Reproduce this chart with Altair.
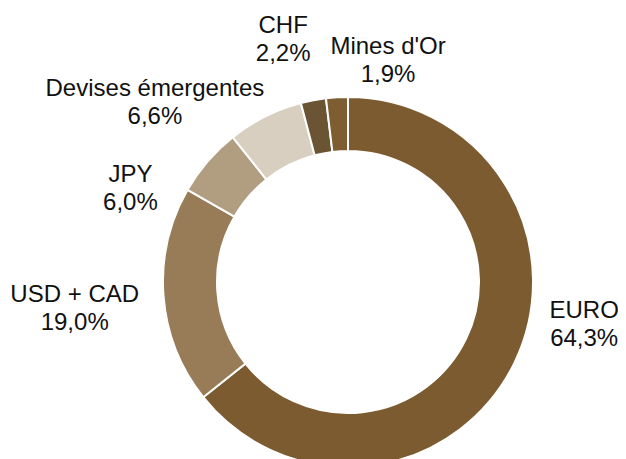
import altair as alt
import pandas as pd

categories = ["EURO", "USD + CAD", "JPY", "Devises émergentes", "CHF", "Mines d'Or"]
values = [64.3, 19.0, 6.0, 6.6, 2.2, 1.9]
colors = ["#7B5B2F", "#987B57", "#B19D80", "#D9CFC0", "#6B5433", "#7D5D31"]

df = pd.DataFrame({"cat": categories, "value": values, "idx": list(range(len(categories)))})
df["label"] = [f"{c}\n" + f"{v:.1f}".replace(".", ",") + "%" for c, v in zip(categories, values)]

CX, CY = 340, 274
theta_scale = alt.Scale(domain=[0, 100])

arcs = alt.Chart(df).mark_arc(
    outerRadius=185, innerRadius=131, stroke="white", strokeWidth=2
).encode(
    theta=alt.Theta("value:Q", stack=True, scale=theta_scale),
    color=alt.Color("cat:N", scale=alt.Scale(domain=categories, range=colors), legend=None),
    order=alt.Order("idx:Q"),
    x=alt.value(CX),
    y=alt.value(CY),
)

base = alt.Chart(df).transform_window(
    cum="sum(value)", sort=[alt.SortField("idx")], frame=[None, 0]
).transform_calculate(mid="datum.cum - datum.value / 2")

# label nudges (dx, dy) from the slice's mid-angle anchor
nudges = {
    "EURO": (11, -73),
    "USD + CAD": (-24, 1),
    "JPY": (-28, 63),
    "Devises émergentes": (-81, 37),
    "CHF": (-18, -3),
    "Mines d'Or": (55, 22),
}

layers = [arcs]
for c in categories:
    dx, dy = nudges[c]
    layers.append(
        base.transform_filter({"field": "cat", "equal": c}).mark_text(
            radius=250, dx=dx, dy=dy, fontSize=24, font="Liberation Sans",
            lineBreak="\n", lineHeight=28, align="center", baseline="alphabetic",
            color="#111111",
        ).encode(
            theta=alt.Theta("mid:Q", stack=None, scale=theta_scale),
            text="label:N",
            x=alt.value(CX),
            y=alt.value(CY),
        )
    )

chart = alt.layer(*layers).properties(
    width=610, height=451, padding=0, autosize="none"
).configure_view(stroke=None)

chart.save("out.html", embed_options={"renderer": "svg", "actions": False})
